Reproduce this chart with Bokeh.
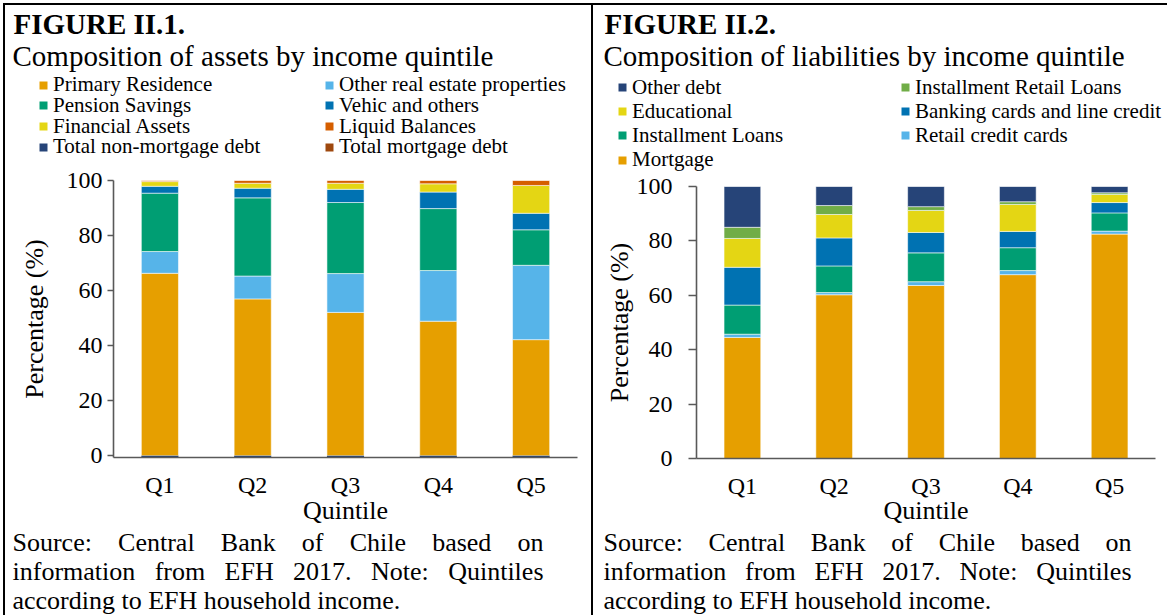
from bokeh.plotting import figure
from bokeh.models import (FactorRange, Range1d, Legend, LegendItem, Label,
                          ColumnDataSource, FixedTicker, Spacer)
from bokeh.layouts import row, column
from bokeh.embed import file_html
from bokeh.resources import INLINE

# ---------------- data ----------------
quintiles = ["Q1", "Q2", "Q3", "Q4", "Q5"]
y_ticks = [0, 20, 40, 60, 80, 100]

# Figure II.1 - composition of assets (%), stacked bottom -> top
primary_residence = [66.3, 57.0, 52.1, 48.9, 42.2]
other_real_estate = [7.9, 8.3, 14.1, 18.4, 27.0]
pension_savings = [21.2, 28.4, 25.8, 22.5, 12.9]
vehic_and_others = [2.5, 3.5, 4.8, 6.0, 6.0]
financial_assets = [1.7, 1.8, 2.2, 3.0, 10.1]
liquid_balances = [0.4, 1.0, 1.0, 1.2, 1.8]
total_non_mortgage_debt = [-0.6, -0.6, -0.6, -0.6, -0.6]
total_mortgage_debt = [0.0, 0.0, 0.0, 0.0, 0.0]

# Figure II.2 - composition of liabilities (%), stacked bottom -> top
mortgage = [44.5, 60.2, 63.6, 67.6, 82.5]
retail_credit_cards = [1.2, 0.8, 1.4, 1.5, 1.1]
installment_loans = [10.7, 9.8, 10.6, 8.4, 6.7]
banking_cards = [13.9, 10.3, 7.5, 6.0, 3.8]
educational = [10.6, 8.6, 8.1, 9.9, 3.0]
installment_retail = [4.1, 3.3, 1.4, 1.0, 0.6]
other_debt = [15.0, 7.0, 7.4, 5.6, 2.3]

# ---------------- styles / layout ----------------
FONT = "Liberation Serif"
C_ORANGE = "#E69F00"
C_SKY = "#56B4E9"
C_GREEN = "#009E73"
C_BLUE = "#0072B2"
C_YELLOW = "#E4D614"
C_VERM = "#D55E00"
C_NAVY = "#264478"
C_BROWN = "#9E480E"
C_LGREEN = "#70AD47"
AXIS_COLOR = "#595959"
LEG_H = 22
PAGE_H = 615
TOP = 5          # panels start below the top rule
FOOT_Y = 528     # page y where footer starts
BASE_FIX = 0.33  # label baseline correction (em)

source_lines = ["Source: Central Bank of Chile based on",
                "information from EFH 2017. Note: Quintiles",
                "according to EFH household income."]

TW = {' ': 250, ':': 278, '.': 250, 'A': 722, 'B': 667, 'C': 667, 'E': 611,
      'F': 556, 'H': 722, 'N': 722, 'Q': 722, 'S': 556, 'a': 444, 'b': 500,
      'c': 444, 'd': 500, 'e': 444, 'f': 333, 'g': 500, 'h': 500, 'i': 278,
      'k': 500, 'l': 278, 'm': 778, 'n': 500, 'o': 500, 'r': 333, 's': 389,
      't': 278, 'u': 500}


def text_w(s, size):
    return sum(TW.get(ch, 500) for ch in s) / 1000.0 * size


G1 = dict(cx=5, w=586, head_h=157, fl=113, fr=577, y0=455, y100=180, ystart=-0.6,
          tick_out=6, tick_std=5, lab_std=15, xlab_std=8, xtitle_std=-5,
          tx0=12, tx1=543)
G2 = dict(cx=593, w=574, head_h=167, fl=696, fr=1155, y0=458, y100=186, ystart=0.0,
          tick_out=8, tick_std=16, lab_std=0, xlab_std=8, xtitle_std=-6,
          tx0=603, tx1=1131)


def blank_fig(w, h):
    p = figure(x_range=Range1d(0, w), y_range=Range1d(0, h), width=w, height=h,
               output_backend="svg", toolbar_location=None, title=None,
               x_axis_location=None, y_axis_location=None,
               min_border_left=0, min_border_right=0, min_border_top=0,
               min_border_bottom=0, frame_align=False)
    p.outline_line_color = None
    p.grid.visible = False
    p.background_fill_color = "white"
    p.border_fill_color = "white"
    return p


def chart_fig(g):
    ppu = (g['y0'] - g['y100']) / 100.0
    fb = g['y0'] - g['ystart'] * ppu
    top = TOP + g['head_h']
    h = FOOT_Y - top
    p = figure(x_range=FactorRange(*quintiles), y_range=Range1d(g['ystart'], 100),
               width=g['w'], height=h, output_backend="svg",
               toolbar_location=None, title=None, frame_align=False,
               min_border_left=int(round(g['fl'] - g['cx'])),
               min_border_right=int(round(g['cx'] + g['w'] - g['fr'])),
               min_border_top=int(round(g['y100'] - top)),
               min_border_bottom=int(round(FOOT_Y - fb)))
    p.outline_line_color = None
    p.xgrid.visible = False
    p.ygrid.visible = False
    p.background_fill_color = "white"
    p.border_fill_color = "white"
    ya = p.yaxis[0]
    ya.ticker = FixedTicker(ticks=y_ticks)
    ya.axis_line_color = AXIS_COLOR
    ya.axis_line_width = 1.6
    ya.major_tick_line_color = AXIS_COLOR
    ya.major_tick_line_width = 1.6
    ya.major_tick_in = 0
    ya.major_tick_out = g['tick_out']
    ya.minor_tick_line_color = None
    ya.major_label_standoff = g['tick_std']
    ya.major_label_text_font = FONT
    ya.major_label_text_font_size = "24px"
    ya.major_label_text_color = "black"
    ya.axis_label = "Percentage (%)"
    ya.axis_label_text_font = FONT
    ya.axis_label_text_font_size = "26px"
    ya.axis_label_text_font_style = "normal"
    ya.axis_label_text_color = "black"
    ya.axis_label_standoff = g['lab_std']
    xa = p.xaxis[0]
    xa.axis_line_color = AXIS_COLOR
    xa.axis_line_width = 1.6
    xa.major_tick_line_color = None
    xa.minor_tick_line_color = None
    xa.major_label_standoff = g['xlab_std']
    xa.major_label_text_font = FONT
    xa.major_label_text_font_size = "24px"
    xa.major_label_text_color = "black"
    xa.axis_label = "Quintile"
    xa.axis_label_text_font = FONT
    xa.axis_label_text_font_size = "26px"
    xa.axis_label_text_font_style = "normal"
    xa.axis_label_text_color = "black"
    xa.axis_label_standoff = g['xtitle_std']
    return p


def add_text(p, cx, cy_top, h, px, py, text, size, style="normal", align="left"):
    py_eff = py - BASE_FIX * size
    p.add_layout(Label(x=px - cx, y=(cy_top + h) - py_eff, text=text, text_font=FONT,
                       text_font_size=f"{size}px", text_font_style=style,
                       text_align=align, text_baseline="alphabetic",
                       text_color="black"))


def header_fig(g, fig_no, subtitle, legend_entries, gy0, pitch):
    h = g['head_h']
    p = blank_fig(g['w'], h)
    add_text(p, g['cx'], TOP, h, g['tx0'] + 1, 33, fig_no, 29, style="bold")
    add_text(p, g['cx'], TOP, h, g['tx0'], 65, subtitle, 29)
    for color, label, gx, k in legend_entries:
        # legend key proxy: zero-size glyph, draws nothing in the plot area
        rr = p.vbar(x=[0], top=[0], bottom=[0], width=0, fill_color=color,
                    line_color=None)
        cy = gy0 + pitch * k
        leg = Legend(items=[LegendItem(label=label, renderers=[rr])],
                     location=(gx - g['cx'], (TOP + h) - cy - LEG_H / 2.0),
                     orientation="vertical", padding=0, margin=0, spacing=0,
                     border_line_alpha=0, background_fill_alpha=0,
                     glyph_width=10, glyph_height=10, label_standoff=5,
                     label_height=LEG_H, label_text_font=FONT,
                     label_text_font_size="21px", label_text_color="black")
        p.add_layout(leg, "center")
    return p


def footer_fig(g):
    h = PAGE_H - FOOT_Y
    p = blank_fig(g['w'], h)
    size = 26
    baselines = [551, 580, 609]
    x0, x1 = g['tx0'], g['tx1']
    for i, line in enumerate(source_lines):
        if i < 2:
            words = line.split()
            total = sum(text_w(wd, size) for wd in words)
            gap = (x1 - x0 - total) / (len(words) - 1)
            xx = x0
            for j, wd in enumerate(words):
                if j == len(words) - 1:
                    add_text(p, g['cx'], FOOT_Y, h, x1, baselines[i], wd, size,
                             align="right")
                else:
                    add_text(p, g['cx'], FOOT_Y, h, xx, baselines[i], wd, size)
                xx += text_w(wd, size) + gap
        else:
            add_text(p, g['cx'], FOOT_Y, h, x0, baselines[i], line, size)
    return p


# ---------------- Figure II.1 ----------------
c1 = chart_fig(G1)
src1 = ColumnDataSource(dict(q=quintiles, a1=primary_residence, a2=other_real_estate,
                             a3=pension_savings, a4=vehic_and_others,
                             a5=financial_assets, a6=liquid_balances))
c1.vbar_stack(["a1", "a2", "a3", "a4", "a5", "a6"], x="q", width=0.4,
              fill_color=[C_ORANGE, C_SKY, C_GREEN, C_BLUE, C_YELLOW, C_VERM],
              line_color="white", line_alpha=0.55, line_width=1, source=src1)
m_bottom = [a + b for a, b in zip(total_non_mortgage_debt, total_mortgage_debt)]
c1.vbar(x=quintiles, top=[0] * len(quintiles), bottom=total_non_mortgage_debt, width=0.4,
        fill_color=C_NAVY, line_color=None)
c1.vbar(x=quintiles, top=total_non_mortgage_debt, bottom=m_bottom, width=0.4,
        fill_color=C_BROWN, line_color=None)

leg1 = [(C_ORANGE, "Primary Residence", 38, 0), (C_SKY, "Other real estate properties", 324, 0),
        (C_GREEN, "Pension Savings", 38, 1), (C_BLUE, "Vehic and others", 324, 1),
        (C_YELLOW, "Financial Assets", 38, 2), (C_VERM, "Liquid Balances", 324, 2),
        (C_NAVY, "Total non-mortgage debt", 38, 3), (C_BROWN, "Total mortgage debt", 324, 3)]
h1 = header_fig(G1, "FIGURE II.1.", "Composition of assets by income quintile", leg1, 86, 20.8)
f1 = footer_fig(G1)

# ---------------- Figure II.2 ----------------
c2 = chart_fig(G2)
src2 = ColumnDataSource(dict(q=quintiles, l1=mortgage, l2=retail_credit_cards,
                             l3=installment_loans, l4=banking_cards, l5=educational,
                             l6=installment_retail, l7=other_debt))
c2.vbar_stack(["l1", "l2", "l3", "l4", "l5", "l6", "l7"], x="q", width=0.4,
              fill_color=[C_ORANGE, C_SKY, C_GREEN, C_BLUE, C_YELLOW, C_LGREEN, C_NAVY],
              line_color="white", line_alpha=0.55, line_width=1, source=src2)
leg2 = [(C_NAVY, "Other debt", 617, 0), (C_LGREEN, "Installment Retail Loans", 900, 0),
        (C_YELLOW, "Educational", 617, 1), (C_BLUE, "Banking cards and line credit", 900, 1),
        (C_GREEN, "Installment Loans", 617, 2), (C_SKY, "Retail credit cards", 900, 2),
        (C_ORANGE, "Mortgage", 617, 3)]
h2 = header_fig(G2, "FIGURE II.2.", "Composition of liabilities by income quintile", leg2, 88.5, 24.2)
f2 = footer_fig(G2)

# ---------------- frame rules & layout ----------------
BLACK = {"background-color": "black"}
panel_h = PAGE_H - TOP
vrule_left = Spacer(width=2, height=panel_h, styles=BLACK)
vrule_mid = Spacer(width=2, height=panel_h, styles=BLACK)
panels = row(vrule_left, column(h1, c1, f1), vrule_mid, column(h2, c2, f2))
top_rule = Spacer(width=1164, height=2, styles=BLACK)
layout = column(Spacer(width=1167, height=3),
                row(Spacer(width=3, height=612), column(top_rule, panels)))
open("out.html", "w").write(file_html(layout, INLINE))
